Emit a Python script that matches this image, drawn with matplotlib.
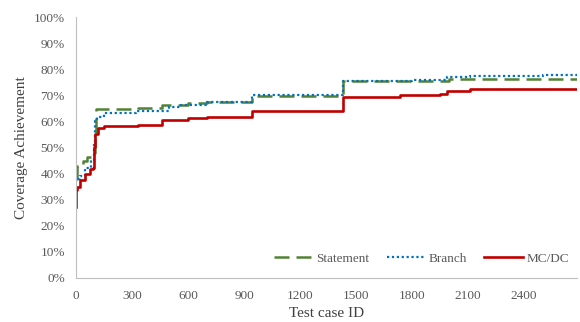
import matplotlib
matplotlib.use("Agg")
import matplotlib.pyplot as plt
from matplotlib.ticker import FuncFormatter, MultipleLocator

plt.rcParams['font.family'] = ['Liberation Serif', 'DejaVu Serif']

# coverage (%) after each test case, step changes only
stmt_x = [0, 3, 6, 21, 37, 60, 91, 100, 107, 330, 460, 600, 700, 945, 1430, 2000, 2684]
stmt_y = [37.8, 41, 43, 43.3, 45, 46.5, 47.8, 56, 64.8, 65.2, 66.1, 67, 67.5, 69.6, 75.5, 76.1, 76.1]

branch_x = [10, 20, 50, 80, 95, 100, 112, 150, 320, 500, 560, 700, 945, 1430, 1800, 1985, 2110, 2500, 2684]
branch_y = [38, 38.9, 42, 45.2, 52, 60, 61.6, 63.1, 64.1, 65.6, 66.3, 67.6, 70.3, 75.5, 76, 76.9, 77.5, 77.8, 77.8]

mcdc_x = [0, 2, 5, 20, 48, 75, 91, 96, 100, 118, 150, 330, 460, 600, 700, 945, 1430, 1735, 1950, 1987, 2110, 2470, 2684]
mcdc_y = [27.3, 33.7, 35, 37.5, 39.7, 41.6, 42, 50, 55, 57.3, 58.2, 58.8, 60.5, 61.2, 61.6, 64.1, 69.5, 70.0, 70.4, 71.6, 72.3, 72.6, 72.6]

x_max = 2684

fig = plt.figure(figsize=(5.8, 3.22), dpi=100)
ax = fig.add_axes([0.131, 0.137, 0.864, 0.81])

ax.step(stmt_x, stmt_y, where='post', color='#548235', lw=1.8,
        dashes=(6, 2.8), label='Statement')
ax.step(branch_x, branch_y, where='post', color='#0070C0', lw=1.6,
        dashes=(1, 1.2), label='Branch')
ax.step(mcdc_x, mcdc_y, where='post', color='#C00000', lw=1.9,
        label='MC/DC')

ax.set_xlim(0, x_max)
ax.set_ylim(0, 100)
ax.xaxis.set_major_locator(MultipleLocator(300))
ax.yaxis.set_major_locator(MultipleLocator(10))
ax.yaxis.set_major_formatter(FuncFormatter(lambda v, p: f'{v:.0f}%'))

for s in ['top', 'right']:
    ax.spines[s].set_visible(False)
for s in ['left', 'bottom']:
    ax.spines[s].set_color('#bfbfbf')
ax.tick_params(length=0, labelsize=9.5, labelcolor='#595959')
ax.tick_params(axis='x', pad=9)
ax.tick_params(axis='y', pad=8)

ax.set_xlabel('Test case ID', fontsize=11, color='#404040', labelpad=3)
ax.set_ylabel('Coverage Achievement', fontsize=11, color='#404040', labelpad=4)

ax.legend(loc='lower right', ncol=3, frameon=False, fontsize=9.5,
          handlelength=2.9, handletextpad=0.3, columnspacing=1.3,
          labelcolor='#595959', borderaxespad=0.2,
          bbox_to_anchor=(1.0, 0.02))

fig.savefig('out.png', dpi=100)
